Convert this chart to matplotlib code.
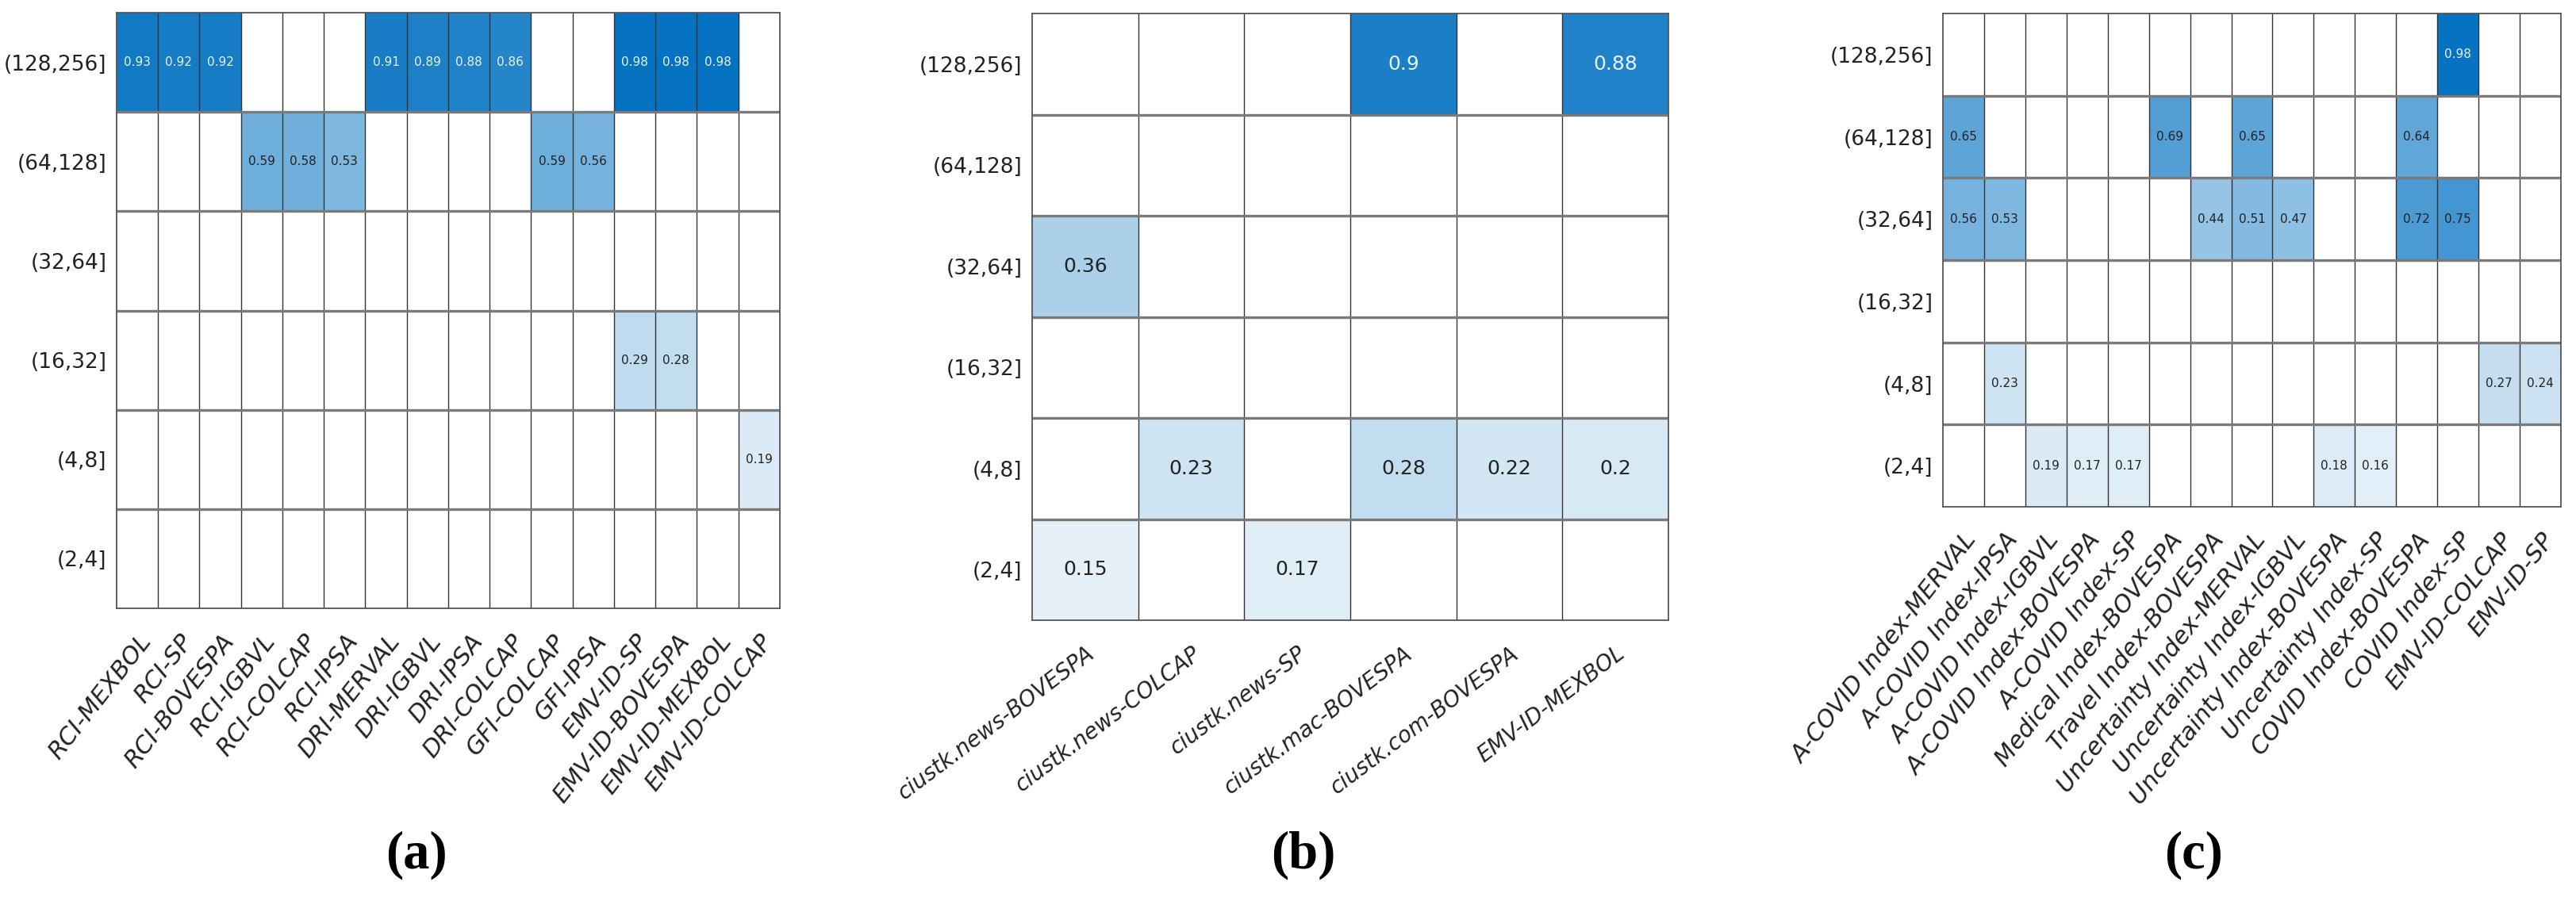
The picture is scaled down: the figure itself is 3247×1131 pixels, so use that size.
import numpy as np
import matplotlib
matplotlib.use("Agg")
import matplotlib.pyplot as plt
from matplotlib.colors import LinearSegmentedColormap

# row bins shared by all three panels (top to bottom)
ROWS = ["(128,256]", "(64,128]", "(32,64]", "(16,32]", "(4,8]", "(2,4]"]
NA = np.nan

# panel (a)
COLS_A = ["RCI-MEXBOL", "RCI-SP", "RCI-BOVESPA", "RCI-IGBVL", "RCI-COLCAP", "RCI-IPSA",
          "DRI-MERVAL", "DRI-IGBVL", "DRI-IPSA", "DRI-COLCAP", "GFI-COLCAP", "GFI-IPSA",
          "EMV-ID-SP", "EMV-ID-BOVESPA", "EMV-ID-MEXBOL", "EMV-ID-COLCAP"]
VALS_A = [
    [0.93, 0.92, 0.92, NA, NA, NA, 0.91, 0.89, 0.88, 0.86, NA, NA, 0.98, 0.98, 0.98, NA],
    [NA, NA, NA, 0.59, 0.58, 0.53, NA, NA, NA, NA, 0.59, 0.56, NA, NA, NA, NA],
    [NA] * 16,
    [NA, NA, NA, NA, NA, NA, NA, NA, NA, NA, NA, NA, 0.29, 0.28, NA, NA],
    [NA, NA, NA, NA, NA, NA, NA, NA, NA, NA, NA, NA, NA, NA, NA, 0.19],
    [NA] * 16,
]

# panel (b)
COLS_B = ["ciustk.news-BOVESPA", "ciustk.news-COLCAP", "ciustk.news-SP",
          "ciustk.mac-BOVESPA", "ciustk.com-BOVESPA", "EMV-ID-MEXBOL"]
VALS_B = [
    [NA, NA, NA, 0.9, NA, 0.88],
    [NA] * 6,
    [0.36, NA, NA, NA, NA, NA],
    [NA] * 6,
    [NA, 0.23, NA, 0.28, 0.22, 0.2],
    [0.15, NA, 0.17, NA, NA, NA],
]

# panel (c)
COLS_C = ["A-COVID Index-MERVAL", "A-COVID Index-IPSA", "A-COVID Index-IGBVL",
          "A-COVID Index-BOVESPA", "A-COVID Index-SP", "Medical Index-BOVESPA",
          "Travel Index-BOVESPA", "Uncertainty Index-MERVAL", "Uncertainty Index-IGBVL",
          "Uncertainty Index-BOVESPA", "Uncertainty Index-SP", "COVID Index-BOVESPA",
          "COVID Index-SP", "EMV-ID-COLCAP", "EMV-ID-SP"]
VALS_C = [
    [NA, NA, NA, NA, NA, NA, NA, NA, NA, NA, NA, NA, 0.98, NA, NA],
    [0.65, NA, NA, NA, NA, 0.69, NA, 0.65, NA, NA, NA, 0.64, NA, NA, NA],
    [0.56, 0.53, NA, NA, NA, NA, 0.44, 0.51, 0.47, NA, NA, 0.72, 0.75, NA, NA],
    [NA] * 15,
    [NA, 0.23, NA, NA, NA, NA, NA, NA, NA, NA, NA, NA, NA, 0.27, 0.24],
    [NA, NA, 0.19, 0.17, 0.17, NA, NA, NA, NA, 0.18, 0.16, NA, NA, NA, NA],
]

W, H = 3248, 1131
cmap = LinearSegmentedColormap.from_list("wb", ["#ffffff", "#0070c0"])
cmap.set_bad("white")

fig = plt.figure(figsize=(W / 100, H / 100), dpi=100)


def px_axes(x0, y0, x1, y1):
    # axes from pixel box (top-left origin)
    return fig.add_axes([x0 / W, 1 - y1 / H, (x1 - x0) / W, (y1 - y0) / H])


def heat(ax, vals, cols, annot_size, xlab_size, rot):
    data = np.ma.masked_invalid(np.array(vals, dtype=float))
    nr, nc = data.shape
    ax.pcolormesh(np.arange(nc + 1), np.arange(nr + 1), data, cmap=cmap,
                  vmin=0.05, vmax=1.0, edgecolor="none")
    ax.set_xlim(0, nc)
    ax.set_ylim(nr, 0)
    for x in range(1, nc):
        ax.axvline(x, color="#333333", lw=1.0)
    for y in range(1, nr):
        ax.axhline(y, color="#7a7a7a", lw=2.4)
    for i in range(nr):
        for j in range(nc):
            v = vals[i][j]
            if not np.isnan(v):
                ax.text(j + 0.5, i + 0.5, f"{v:g}", ha="center", va="center",
                        fontsize=annot_size,
                        color="#e6f4ff" if v >= 0.8 else "#222222")
    ax.set_yticks(np.arange(nr) + 0.5)
    ax.set_yticklabels(ROWS, fontsize=19, color="#222222")
    ax.set_xticks(np.arange(nc) + 0.5)
    ax.set_xticklabels(cols, fontsize=xlab_size, rotation=rot, ha="right",
                       va="top", rotation_mode="anchor", style="italic",
                       color="#222222")
    ax.tick_params(axis="both", length=0)
    ax.tick_params(axis="x", pad=20)
    ax.tick_params(axis="y", pad=9)
    for s in ax.spines.values():
        s.set_color("#555555")
        s.set_linewidth(1.3)


ax_a = px_axes(147, 16, 983, 767)
heat(ax_a, VALS_A, COLS_A, 11, 22, 52)

ax_b = px_axes(1301, 17, 2103, 782)
heat(ax_b, VALS_B, COLS_B, 18, 20, 37)

ax_c = px_axes(2449, 17, 3228, 639)
heat(ax_c, VALS_C, COLS_C, 11, 22, 52)

for lab, xc in [("(a)", 525), ("(b)", 1643), ("(c)", 2765)]:
    fig.text(xc / W, 1 - 1078 / H, lab, ha="center", va="center",
             fontsize=48, fontweight="bold", family="Liberation Serif")

fig.savefig("out.png", dpi=100, facecolor="white")
